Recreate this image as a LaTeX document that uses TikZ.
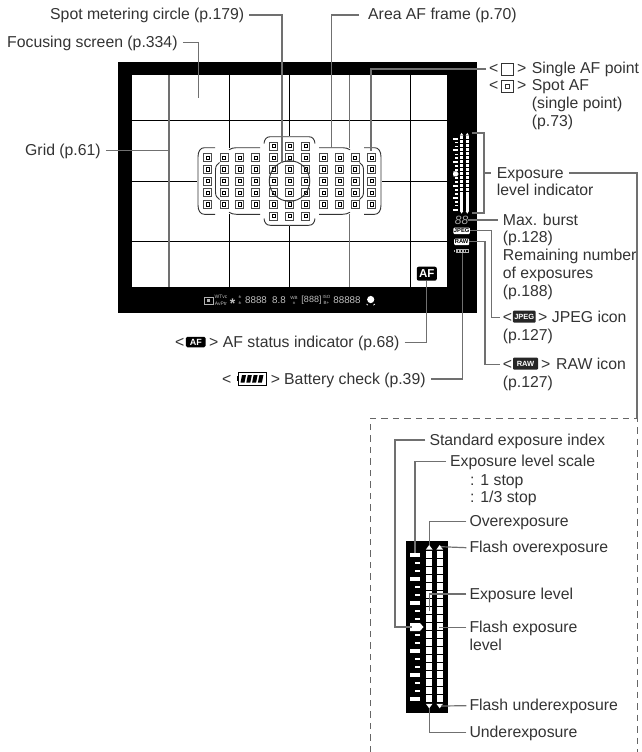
\documentclass[tikz,border=0pt]{standalone}
\usepackage{fontspec}
\setmainfont{Liberation Sans}
\usetikzlibrary{positioning}
\definecolor{leadgray}{HTML}{707070}
\definecolor{textgray}{HTML}{333333}
\definecolor{dashgray}{HTML}{666666}
\tikzset{
    lbl/.style = {
        anchor=west, inner sep=0pt,
        text height=10pt, text depth=0pt,
        text=textgray,
        font=\fontsize{15.8}{17.5}\selectfont
    },
    nextline/.style = {
        lbl, below=7.5pt of #1.south west, anchor=north west
    },
    leader/.style = {
        draw=leadgray, line width=1.2pt
    },
    gridgray/.style = {
        draw=leadgray, line width=1.1pt
    },
    gridblack/.style = {
        draw=black, line width=0.8pt
    },
    afframe/.style = {
        draw=black!80, line width=0.9pt
    },
    afpoint/.style = {
        draw=black!70, line width=1pt, fill=white
    },
    afdot/.style = {
        draw=black, line width=0.7pt
    },
    tinytext/.style = {
        inner sep=0pt, text=white!75!black,
        font=\fontsize{#1}{#1}\selectfont
    },
    iconbox/.style = {
        fill=black!85, rounded corners=1pt, inner sep=0pt,
        text=white, font=\fontsize{7.5}{7.5}\bfseries\selectfont
    }
}

\begin{document}
\begin{tikzpicture}[x=1pt, y=-1pt]
\useasboundingbox (0,0) rectangle (642,752);

% viewfinder
\fill[black] (118,62) rectangle (477,313);
\fill[white] (132,75) rectangle (447,287);

% grid
\draw[gridblack] (132,120.7) -- (447,120.7);
\draw[gridblack] (132,241.5) -- (447,241.5);
\draw[gridblack] (132,181) -- (197,181);
\draw[gridblack] (382,181) -- (447,181);
\draw[gridgray] (169,75) -- (169,287);
\draw[gridblack] (229,75) -- (229,148);
\draw[gridblack] (229,214) -- (229,287);
\draw[gridblack] (289.5,75) -- (289.5,136);
\draw[gridblack] (289.5,226) -- (289.5,287);
\draw[gridgray] (349.5,75) -- (349.5,148);
\draw[gridgray] (349.5,214) -- (349.5,287);
\draw[gridblack] (410,75) -- (410,287);

% AF points
\foreach \cx in {-82,-65.5,-50,-34,34,50,65.5,82}
    \foreach \cy in {157.7,169.4,181,192.7,204.3} {
        \draw[afpoint] (289.5+\cx-4,\cy-4) rectangle (289.5+\cx+4,\cy+4);
        \draw[afdot] (289.5+\cx-1.6,\cy-1.6) rectangle (289.5+\cx+1.6,\cy+1.6);
    }
\foreach \cx in {-16,0,16}
    \foreach \cy in {146,157.7,169.4,181,192.7,204.3,216} {
        \draw[afpoint] (289.5+\cx-4,\cy-4) rectangle (289.5+\cx+4,\cy+4);
        \draw[afdot] (289.5+\cx-1.6,\cy-1.6) rectangle (289.5+\cx+1.6,\cy+1.6);
    }

% area AF frame
\foreach \sgn in {-1,1} {
    \begin{scope}[shift={(289.5,0)}, xscale=\sgn]
    \draw[afframe] (74.5,147.7) -- (85,147.7) .. controls (89,147.7) and (91.5,151) .. (91.5,157)
        -- (91.5,205) .. controls (91.5,211) and (89,214.3) .. (85,214.3) -- (74.5,214.3);
    \draw[afframe] (70,162.5) .. controls (72.5,164) and (74,166) .. (74,170)
        -- (74,192) .. controls (74,196) and (72.5,198) .. (70,199.5);
    \draw[afframe] (60.5,149.7) .. controls (58,148.3) and (56,147.7) .. (53,147.7) -- (29.5,147.7);
    \draw[afframe] (60.5,212.3) .. controls (58,213.7) and (56,214.3) .. (53,214.3) -- (29.5,214.3);
    \draw[afframe] (25.5,143.5) .. controls (25,139) and (23,136.7) .. (19,136.7) -- (0,136.7);
    \draw[afframe] (25.5,218.5) .. controls (25,223) and (23,225.3) .. (19,225.3) -- (0,225.3);
    \end{scope}
}
\draw[afframe] (289.5,181) circle (20.3);

% small exposure scale
\foreach \i in {0,...,18} {
    \fill[white] (455,138.5+3.95*\i-0.8) rectangle (457.7,138.5+3.95*\i+0.8);
    \fill[white] (460,136.2+3.95*\i) rectangle (463.3,139.4+3.95*\i);
    \fill[white] (465.7,136.2+3.95*\i) rectangle (469,139.4+3.95*\i);
}
\foreach \i in {0,3,...,18}
    \fill[white] (453.3,138.5+3.95*\i-1) rectangle (457.7,138.5+3.95*\i+1);
\fill[white] (453.3,171.4) -- (457,171.4) -- (458.6,174) -- (457,176.4) -- (453.3,176.4) -- cycle;
\foreach \cx in {461.6,467.3} {
    \fill[white] (\cx-1.7,135.5) -- (\cx,132.8) -- (\cx+1.7,135.5) -- cycle;
    \fill[white] (\cx-1.7,211) -- (\cx,213.6) -- (\cx+1.7,211) -- cycle;
}
\node[tinytext=12, text=white!65!black] (burstnum) at (461.5,220) {\itshape 88};
\node[fill=white, inner sep=0.5pt, font=\fontsize{5.8}{6}\bfseries\selectfont, minimum width=15pt, minimum height=6.5pt, rounded corners=1pt] (jpegind) at (461.7,230.8) {JPEG};
\node[fill=white, inner sep=0.5pt, font=\fontsize{5.8}{6}\bfseries\selectfont, minimum width=15pt, minimum height=6.5pt, rounded corners=1pt] (rawind) at (461.7,241.8) {RAW};
\node[tinytext=5, fill=white!70!black, text=black, minimum width=13pt, minimum height=4pt] (battind) at (462.5,251) {};
\fill[white!70!black] (453.7,249.7) rectangle (455,252.3);
\foreach \i in {0,1,2,3}
    \fill[black] (458+2.8*\i,249.9) rectangle (459.3+2.8*\i,252.1);

% AF badge
\node[fill=black, rounded corners=2pt, inner sep=0pt, minimum width=20pt, minimum height=14pt, text=white, font=\fontsize{11.5}{12}\bfseries\selectfont] (afbadge) at (426.8,273.7) {AF};

% bottom read-out
\draw[white!70!black, line width=0.6pt] (204,297) rectangle (213,304);
\fill[white!70!black] (207,299) rectangle (210,302);
\node[tinytext=5] (roa) at (221,300.3) {\shortstack{WTvc\\AvPtr}};
\node[tinytext=14] (rob) at (232.5,303.3) {\bfseries *};
\node[tinytext=5] (rotick) at (240,300.3) {\shortstack{±\\±}};
\node[tinytext=9.8] (roc) at (256,300.3) {8888};
\node[tinytext=9.8] (rod) at (279,300.3) {8.8};
\node[tinytext=4.5] (roe) at (294,300.3) {\shortstack{WB\\±}};
\node[tinytext=9] (rof) at (311.5,300.3) {[888]};
\node[tinytext=4.5] (rog) at (326.5,300.3) {\shortstack{ISO\\B+}};
\node[tinytext=9.8] (roh) at (347,300.3) {88888};
\fill[white] (370.7,299.5) circle (3.6);
\draw[white, line width=0.7pt] (366.5,304) -- (368,305.2) (374.9,304) -- (373.4,305.2);

% labels, top
\node[lbl] (spotlbl) at (50,15) {Spot metering circle (p.179)};
\node[lbl] (focuslbl) at (7,42.5) {Focusing screen (p.334)};
\node[lbl] (arealbl) at (368,15) {Area AF frame (p.70)};
\node[lbl] (gridlbl) at (25,150.7) {Grid (p.61)};
\coordinate (spotend) at (282,162.5);
\coordinate (focusend) at (198.7,97.7);
\coordinate (areaend) at (331.7,147.7);
\coordinate (gridend) at (169,150.7);
\draw[leader] ([xshift=5pt]spotlbl.east) -| (spotend);
\draw[leader] ([xshift=5pt]focuslbl.east) -| (focusend);
\draw[leader] ([xshift=-9pt]arealbl.west) -| (areaend);
\draw[leader] ([xshift=5pt]gridlbl.east) -- (gridend);

% labels, right
\node[lbl] (singlelt) at (489,69) {<};
\draw[textgray, line width=0.8pt] (501.7,63) rectangle (513.3,75.5);
\node[lbl] (singlegt) at (517,69) {>};
\node[lbl] (singlelbl) at (531.7,69) {Single AF point};
\node[lbl] (spotaflt) at (489,85.7) {<};
\draw[textgray, line width=0.8pt] (501.7,80) rectangle (513.3,92.5);
\draw[textgray, line width=0.8pt] (505.7,84.5) rectangle (509.3,88);
\node[lbl] (spotafgt) at (517,85.7) {>};
\node[lbl] (spotaflbl) at (531.7,85.7) {Spot AF};
\node[nextline=spotaflbl] (spotaftwo) {(single point)};
\node[nextline=spotaftwo] (spotafpage) {(p.73)};
\coordinate (singleend) at (371,151);
\draw[leader] ([xshift=-3pt]singlelt.west) -| (singleend);

\node[lbl] (explbl) at (496.7,173) {Exposure};
\node[nextline=explbl] (exptwo) {level indicator};
\coordinate (brackettop) at (471.7,133);
\coordinate (bracketbot) at (471.7,213);
\coordinate (boxcorner) at (637,418.3);
\draw[leader] (brackettop) -- (484,133) -- (484,213) -- (bracketbot);
\draw[leader] (484,173) -- ([xshift=-6pt]explbl.west);
\draw[leader] ([xshift=5pt]explbl.east) -| (boxcorner);

\node[lbl] (burstlbl) at (502.7,220) {Max. burst};
\node[nextline=burstlbl] (bursttwo) {(p.128)};
\node[nextline=bursttwo] (remainlbl) {Remaining number};
\node[nextline=remainlbl] (remaintwo) {of exposures};
\node[nextline=remaintwo] (remainpage) {(p.188)};
\draw[leader] (burstnum.east) -- ([xshift=-5pt]burstlbl.west);

\node[lbl] (jpeglt) at (502.7,317.5) {<};
\node[iconbox, minimum width=22.7pt, minimum height=12pt] (jpegicon) at (524.3,316.7) {JPEG};
\node[lbl] (jpeggt) at (538,317.5) {>};
\node[lbl] (jpeglbl) at (551.7,317.5) {JPEG icon};
\node[nextline=jpeglt] (jpegpage) {(p.127)};
\coordinate (jpegturn) at (491.7,317.5);
\draw[leader] (jpegind.east) -- (jpegind.east -| jpegturn) -- (jpegturn) -- ([xshift=-3pt]jpeglt.west);

\node[lbl] (rawlt) at (502.7,364.5) {<};
\node[iconbox, minimum width=25pt, minimum height=12pt] (rawicon) at (525.5,363.7) {RAW};
\node[lbl] (rawgt) at (541,364.5) {>};
\node[lbl] (rawlbl) at (556,364.5) {RAW icon};
\node[nextline=rawlt] (rawpage) {(p.127)};
\coordinate (rawturn) at (485,364.5);
\draw[leader] (rawind.east) -- (rawind.east -| rawturn) -- (rawturn) -- ([xshift=-3pt]rawlt.west);

% labels, bottom
\node[lbl] (aflt) at (175,342.7) {<};
\node[fill=black, rounded corners=1.5pt, inner sep=0pt, minimum width=19.7pt, minimum height=10.5pt, text=white, font=\fontsize{9}{9}\bfseries\selectfont] (aficon) at (195.8,342) {AF};
\node[lbl] (afgt) at (209,342.7) {>};
\node[lbl] (aflbl) at (222.7,342.7) {AF status indicator (p.68)};
\draw[leader] ([xshift=5pt]aflbl.east) -| (afbadge.south);

\node[lbl] (battlt) at (222,379) {<};
\draw[black, line width=1pt] (238.5,372.5) rectangle (266.5,385);
\fill[black] (236.7,376) rectangle (238.5,381);
\foreach \i in {0,1,2,3}
    \fill[black] (242+5.8*\i,375) -- (246+5.8*\i,375) -- (244.5+5.8*\i,382.5) -- (240.5+5.8*\i,382.5) -- cycle;
\node[lbl] (battgt) at (270.7,379) {>};
\node[lbl] (battlbl) at (284,379) {Battery check (p.39)};
\draw[leader] ([xshift=5pt]battlbl.east) -| (battind.south);

% dashed box
\draw[dashgray, line width=0.9pt, dash pattern=on 6.5pt off 5pt] (370,752) -- (370,418.3) -- (637,418.3) -- (637,752);

% large exposure scale
\fill[black] (406,541) rectangle (447.7,712.7);
\foreach \i in {0,...,18} {
    \fill[white] (426,550.8+8.02*\i) rectangle (432.3,557.8+8.02*\i);
    \fill[white] (436.7,550.8+8.02*\i) rectangle (442.7,557.8+8.02*\i);
    \fill[white] (415,555+8*\i-1.4) rectangle (420,555+8*\i+1.4);
}
\foreach \i in {0,3,...,18}
    \fill[white] (410,555+8*\i-2) rectangle (420,555+8*\i+2);
\fill[white] (410,623) -- (420,623) -- (423.5,627) -- (420,631) -- (410,631) -- cycle;
\foreach \cx in {429.2,439.7} {
    \fill[white] (\cx-3.3,549.5) -- (\cx,545) -- (\cx+3.3,549.5) -- cycle;
    \fill[white] (\cx-3.3,703.8) -- (\cx,708.3) -- (\cx+3.3,703.8) -- cycle;
}
\coordinate (stdend) at (411.7,627);
\coordinate (scaleend) at (415,553);
\coordinate (overend) at (429.2,545);
\coordinate (flashoverend) at (441,546.7);
\coordinate (levelend) at (429.2,610.7);
\coordinate (flashlevelend) at (439,627.3);
\coordinate (flashunderend) at (441,706);
\coordinate (underend) at (429.2,708.3);

% labels, lower scale
\node[lbl] (stdlbl) at (429.3,440) {Standard exposure index};
\node[lbl] (scalelbl) at (450,461.7) {Exposure level scale};
\node[lbl] (scaleone) at (470,480) {: 1 stop};
\node[nextline=scaleone] (scalethird) {: 1/3 stop};
\node[lbl] (overlbl) at (469.3,521.7) {Overexposure};
\node[lbl] (flashoverlbl) at (469.3,547.7) {Flash overexposure};
\node[lbl] (levellbl) at (469.3,594) {Exposure level};
\node[lbl] (flashlevellbl) at (469.3,627.3) {Flash exposure};
\node[nextline=flashlevellbl] (flashleveltwo) {level};
\node[lbl] (flashunderlbl) at (469.3,705.7) {Flash underexposure};
\node[lbl] (underlbl) at (469.3,732.7) {Underexposure};
\draw[leader] ([xshift=-4pt]stdlbl.west) -- (395,440) |- (stdend);
\draw[leader] ([xshift=-4pt]scalelbl.west) -| (scaleend);
\draw[leader] ([xshift=-3pt]overlbl.west) -| (overend);
\draw[leader] ([xshift=-3pt]flashoverlbl.west) -- (flashoverend);
\draw[leader] ([xshift=-3pt]levellbl.west) -| (levelend);
\draw[leader] ([xshift=-3pt]flashlevellbl.west) -- (flashlevelend);
\draw[leader] ([xshift=-3pt]flashunderlbl.west) -- (flashunderend);
\draw[leader] ([xshift=-3pt]underlbl.west) -| (underend);

\end{tikzpicture}
\end{document}
